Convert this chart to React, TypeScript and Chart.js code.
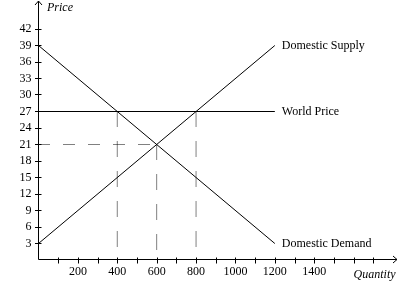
import React, { useEffect, useRef } from "react";
import { Chart, registerables } from "chart.js";

Chart.register(...registerables);

// ---- data ----
const curveQuantities = [0, 1200];
const supplyPrices = [3, 39];
const demandPrices = [39, 3];
const worldPrices = [27, 27];
const guideQuantities = [400, 600, 800];
const guideTopPrices = [27, 21, 27];
const equilibriumQuantity = 600;
const equilibriumPrice = 21;
const xTickLabels = [200, 400, 600, 800, 1000, 1200, 1400];
const xTickMarks = [100, 200, 300, 400, 500, 600, 700, 800, 900, 1000, 1100, 1200, 1300, 1400, 1500, 1600, 1700];
const yTickLabels = [3, 6, 9, 12, 15, 18, 21, 24, 27, 30, 33, 36, 39, 42];
const curveNames = ["Domestic Supply", "World Price", "Domestic Demand"];
const xAxisMax = 1800;
const yAxisMax = 47;

const FONT = "'Liberation Serif', 'Times New Roman', serif";

const vDash = [1, 1, 1, 1, 1, 1, 1, 1, 1, 1, 1, 1, 1, 1, 1, 15];
const hDash = [1, 1, 1, 1, 1, 1, 1, 1, 1, 1, 1, 14];

const axesPlugin = {
  id: "econAxes",
  afterDraw(chart: any) {
    const ctx = chart.ctx as CanvasRenderingContext2D;
    const xs = chart.scales.x;
    const ys = chart.scales.y;
    const ox = Math.round(xs.getPixelForValue(0) - 0.5) + 0.5;
    const oy = Math.round(ys.getPixelForValue(0)) - 0.5;
    const right = chart.chartArea.right + 4;
    const top = ys.getPixelForValue(yAxisMax) - 0.5;
    ctx.save();
    ctx.strokeStyle = "#000";
    ctx.lineWidth = 1;
    ctx.setLineDash([]);
    ctx.beginPath();
    // axes
    ctx.moveTo(ox, oy);
    ctx.lineTo(right, oy);
    ctx.moveTo(ox, oy);
    ctx.lineTo(ox, top);
    // arrows
    ctx.moveTo(right - 4, oy - 3.5);
    ctx.lineTo(right, oy);
    ctx.lineTo(right - 4, oy + 3.5);
    ctx.moveTo(ox - 3.5, top + 4);
    ctx.lineTo(ox, top);
    ctx.lineTo(ox + 3.5, top + 4);
    // tick marks
    xTickMarks.forEach((v) => {
      const px = Math.round(xs.getPixelForValue(v)) + 0.5;
      ctx.moveTo(px, oy - 2);
      ctx.lineTo(px, oy + 4);
    });
    yTickLabels.forEach((v) => {
      const py = Math.round(ys.getPixelForValue(v) - 0.5) + 0.5;
      ctx.moveTo(ox - 3.5, py);
      ctx.lineTo(ox + 3, py);
    });
    ctx.stroke();

    // axis titles
    ctx.fillStyle = "#000";
    ctx.font = `italic 12px ${FONT}`;
    ctx.textBaseline = "middle";
    ctx.textAlign = "left";
    ctx.fillText("Price", ox + 8.5, top + 7);
    ctx.fillText("Quantity", xs.getPixelForValue(1600), oy + 15);

    // curve labels
    ctx.font = `12px ${FONT}`;
    const endQ = curveQuantities[curveQuantities.length - 1];
    const ends = [
      supplyPrices[supplyPrices.length - 1],
      worldPrices[worldPrices.length - 1],
      demandPrices[demandPrices.length - 1],
    ];
    curveNames.forEach((name, i) => {
      ctx.fillText(name, xs.getPixelForValue(endQ) + 7, ys.getPixelForValue(ends[i]));
    });
    ctx.restore();
  },
};

export default function App() {
  const ref = useRef<HTMLCanvasElement | null>(null);
  useEffect(() => {
    if (!ref.current) return;
    const solid = (prices: number[]) =>
      curveQuantities.map((q, i) => ({ x: q, y: prices[i] }));
    const datasets: any[] = [
      { data: solid(supplyPrices) },
      { data: solid(demandPrices) },
      { data: solid(worldPrices) },
      ...guideQuantities.map((q, i) => ({
        data: [
          { x: q, y: guideTopPrices[i] },
          { x: q, y: 0 },
        ],
        borderDash: vDash,
      })),
      {
        data: [
          { x: 0, y: equilibriumPrice },
          { x: equilibriumQuantity, y: equilibriumPrice },
        ],
        borderDash: hDash,
      },
    ].map((d) => ({
      borderColor: "#000",
      borderWidth: 1,
      pointRadius: 0,
      fill: false,
      tension: 0,
      ...d,
    }));

    const chart = new Chart(ref.current, {
      type: "line",
      data: { datasets },
      plugins: [axesPlugin],
      options: {
        animation: false,
        responsive: false,
        devicePixelRatio: 1,
        layout: { padding: { top: 1.5, right: 6, left: 0, bottom: 0 } },
        plugins: { legend: { display: false }, tooltip: { enabled: false } },
        scales: {
          x: {
            type: "linear",
            min: 0,
            max: xAxisMax,
            grid: { display: false, drawTicks: false },
            border: { display: false },
            afterFit: (s: any) => {
              s.height = 40;
              s.paddingLeft = 0;
              s.paddingRight = 0;
              s.paddingTop = 0;
              s.paddingBottom = 0;
            },
            ticks: {
              stepSize: 100,
              autoSkip: false,
              maxRotation: 0,
              padding: 5,
              color: "#000",
              font: { family: FONT, size: 12 },
              callback: (v: any) => (xTickLabels.includes(Number(v)) ? String(v) : ""),
            },
          },
          y: {
            type: "linear",
            min: 0,
            max: yAxisMax,
            grid: { display: false, drawTicks: false },
            border: { display: false },
            afterFit: (s: any) => {
              s.width = 38.5;
              s.paddingLeft = 0;
              s.paddingRight = 0;
              s.paddingTop = 0;
              s.paddingBottom = 0;
            },
            ticks: {
              stepSize: 3,
              autoSkip: false,
              padding: 7,
              color: "#000",
              font: { family: FONT, size: 12 },
              callback: (v: any) => (yTickLabels.includes(Number(v)) ? String(v) : ""),
            },
          },
        },
      } as any,
    });
    return () => chart.destroy();
  }, []);
  return (
    <div style={{ position: "absolute", left: 0, top: 0, width: 399, height: 300, background: "#fff" }}>
      <canvas ref={ref} width={399} height={300} />
    </div>
  );
}
